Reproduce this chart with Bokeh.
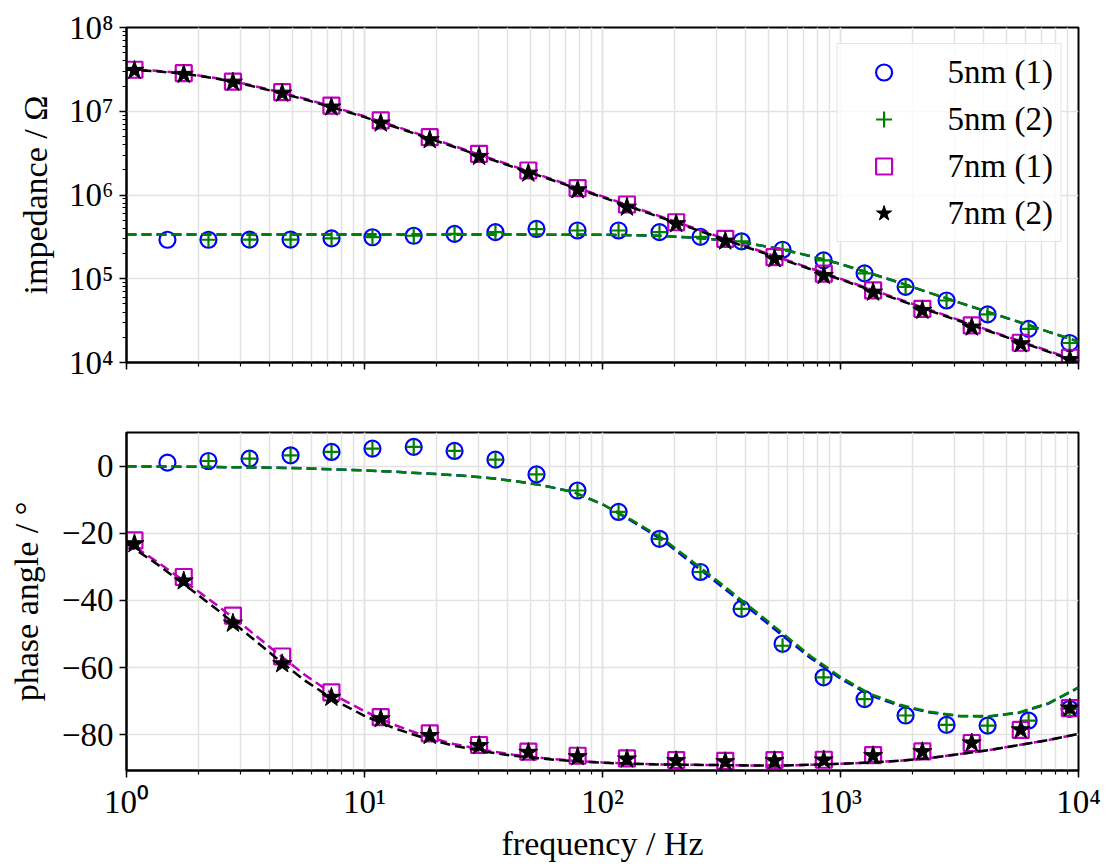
from bokeh.plotting import figure
from bokeh.layouts import column
from bokeh.models import (ColumnDataSource, Range1d, Legend, LegendItem,
                          CustomJSTickFormatter)
from bokeh.embed import file_html
from bokeh.resources import INLINE

# ---------------- data ----------------
freq_5nm_1 = [1.486, 2.21, 3.29, 4.89, 7.27, 10.8, 16.1, 23.9, 35.5, 52.8, 78.5, 116.8,
              173.6, 258, 384, 571, 849, 1262, 1877, 2790, 4150, 6170, 9180]
freq_5nm_2 = [2.21, 3.29, 4.89, 7.27, 10.8, 16.1, 23.9, 35.5, 52.8, 78.5, 116.8,
              173.6, 258, 384, 571, 849, 1262, 1877, 2790, 4150, 6170, 9180]
freq_7nm = [1.08, 1.74, 2.80, 4.51, 7.26, 11.7, 18.8, 30.3, 48.8, 78.6, 126.7, 204,
            328, 528, 851, 1371, 2208, 3560, 5720, 9200]

z_5nm_1 = [2.92e5, 2.92e5, 2.93e5, 2.94e5, 3.03e5, 3.13e5, 3.26e5, 3.44e5, 3.60e5, 3.93e5,
           3.77e5, 3.77e5, 3.60e5, 3.16e5, 2.80e5, 2.22e5, 1.66e5, 1.16e5, 8.0e4, 5.5e4,
           3.75e4, 2.52e4, 1.71e4]
z_5nm_2 = [2.92e5, 2.93e5, 2.94e5, 3.03e5, 3.14e5, 3.26e5, 3.44e5, 3.60e5, 3.92e5,
           3.77e5, 3.77e5, 3.60e5, 3.16e5, 2.80e5, 2.23e5, 1.66e5, 1.16e5, 8.0e4, 5.5e4,
           3.76e4, 2.52e4, 1.71e4]
z_7nm_1 = [3.13e7, 2.85e7, 2.26e7, 1.69e7, 1.17e7, 7.76e6, 4.9e6, 3.1e6, 1.96e6, 1.21e6,
           7.7e5, 4.73e5, 3.0e5, 1.81e5, 1.15e5, 7.25e4, 4.38e4, 2.77e4, 1.72e4, 1.14e4]
z_7nm_2 = [3.07e7, 2.75e7, 2.22e7, 1.64e7, 1.12e7, 7.2e6, 4.56e6, 2.88e6, 1.82e6, 1.15e6,
           7.14e5, 4.53e5, 2.81e5, 1.73e5, 1.09e5, 6.9e4, 4.18e4, 2.64e4, 1.67e4, 1.08e4]

ph_5nm_1 = [1.1, 1.6, 2.3, 3.3, 4.3, 5.3, 5.8, 4.6, 2.0, -2.4, -7.2, -13.6, -21.6, -31.5,
            -42.5, -52.9, -62.9, -69.4, -74.3, -77.1, -77.3, -75.8, -72.3]
ph_5nm_2 = [1.6, 2.3, 3.3, 4.3, 5.3, 5.8, 4.6, 2.0, -2.4, -7.2, -13.6, -21.6, -31.5,
            -42.5, -53.5, -62.9, -69.4, -74.3, -77.1, -77.3, -75.8, -72.3]
ph_7nm_1 = [-22.1, -33.0, -44.5, -56.7, -67.4, -74.8, -79.6, -83.1, -85.1, -86.3, -87.1,
            -87.6, -87.8, -87.6, -87.5, -86.1, -85.0, -82.5, -78.6, -72.1]
ph_7nm_2 = [-23.1, -34.2, -46.8, -58.9, -68.9, -75.3, -80.3, -83.3, -85.3, -86.6, -87.3,
            -87.8, -88.1, -87.8, -87.6, -86.3, -85.1, -82.5, -78.6, -72.1]

# fitted curves, read at eighth-decade frequencies
fit_freq = [1.0, 1.334, 1.778, 2.371, 3.162, 4.217, 5.623, 7.499, 10.0, 13.34, 17.78, 23.71,
            31.62, 42.17, 56.23, 74.99, 100.0, 133.4, 177.8, 237.1, 316.2, 421.7, 562.3,
            749.9, 1000.0, 1334, 1778, 2371, 3162, 4217, 5623, 7499, 10000]
fit_z_5nm_1 = [3.37e5, 3.37e5, 3.37e5, 3.37e5, 3.37e5, 3.37e5, 3.37e5, 3.37e5, 3.37e5,
               3.37e5, 3.37e5, 3.37e5, 3.37e5, 3.37e5, 3.36e5, 3.36e5, 3.35e5, 3.31e5,
               3.25e5, 3.10e5, 2.90e5, 2.61e5, 2.26e5, 1.86e5, 1.50e5, 1.16e5, 8.95e4,
               6.79e4, 5.18e4, 3.96e4, 3.05e4, 2.32e4, 1.78e4]
fit_z_5nm_2 = [3.37e5, 3.37e5, 3.37e5, 3.37e5, 3.37e5, 3.37e5, 3.37e5, 3.37e5, 3.37e5,
               3.37e5, 3.37e5, 3.37e5, 3.37e5, 3.37e5, 3.36e5, 3.36e5, 3.35e5, 3.31e5,
               3.25e5, 3.10e5, 2.90e5, 2.61e5, 2.26e5, 1.86e5, 1.50e5, 1.16e5, 8.95e4,
               6.79e4, 5.18e4, 3.96e4, 3.05e4, 2.32e4, 1.78e4]
fit_z_7nm_1 = [3.17e7, 3.04e7, 2.82e7, 2.49e7, 2.12e7, 1.74e7, 1.41e7, 1.11e7, 8.70e6,
               6.68e6, 5.08e6, 3.86e6, 2.92e6, 2.21e6, 1.68e6, 1.27e6, 9.62e5, 7.25e5,
               5.46e5, 4.12e5, 3.10e5, 2.33e5, 1.76e5, 1.33e5, 1.00e5, 7.52e4, 5.65e4,
               4.25e4, 3.20e4, 2.41e4, 1.82e4, 1.37e4, 1.03e4]
fit_z_7nm_2 = [3.148e7, 3.006e7, 2.786e7, 2.455e7, 2.084e7, 1.710e7, 1.380e7, 1.089e7,
               8.51e6, 6.53e6, 4.97e6, 3.77e6, 2.85e6, 2.16e6, 1.64e6, 1.24e6, 9.40e5,
               7.08e5, 5.33e5, 4.02e5, 3.03e5, 2.28e5, 1.72e5, 1.30e5, 9.79e4, 7.35e4,
               5.52e4, 4.15e4, 3.13e4, 2.36e4, 1.78e4, 1.34e4, 1.0e4]
fit_ph_5nm_1 = [0.0, -0.05, -0.1, -0.2, -0.3, -0.4, -0.6, -0.9, -1.2, -1.6, -2.1, -2.6, -3.3,
                -4.3, -5.7, -7.6, -11.3, -16.4, -21.9, -28.8, -35.8, -42.9, -50.1, -57.2,
                -63.3, -68.3, -71.4, -73.4, -74.5, -74.6, -73.5, -70.7, -66.0]
fit_ph_5nm_2 = [0.0, -0.05, -0.1, -0.2, -0.3, -0.4, -0.6, -0.9, -1.2, -1.6, -2.1, -2.6, -3.3,
                -4.3, -5.7, -7.6, -11.3, -16.1, -21.4, -28.2, -35.1, -42.2, -49.4, -56.6,
                -62.8, -67.9, -71.1, -73.2, -74.4, -74.5, -73.4, -70.6, -65.9]
fit_ph_7nm_1 = [-22.4, -28.3, -34.6, -41.1, -48.0, -55.2, -62.2, -68.3, -73.0, -77.1, -80.3,
                -82.8, -84.6, -86.0, -87.0, -87.8, -88.3, -88.7, -88.9, -89.0, -89.1, -89.2,
                -89.2, -89.0, -88.7, -88.3, -87.8, -87.0, -85.8, -84.6, -83.1, -81.6, -79.8]
fit_ph_7nm_2 = [-23.0, -29.0, -35.6, -42.4, -49.6, -56.9, -63.9, -69.8, -74.4, -78.1, -81.0,
                -83.3, -85.0, -86.3, -87.2, -87.9, -88.4, -88.7, -88.9, -89.0, -89.1, -89.2,
                -89.2, -89.0, -88.7, -88.3, -87.8, -87.0, -85.8, -84.6, -83.1, -81.6, -79.8]

labels = ["5nm (1)", "5nm (2)", "7nm (1)", "7nm (2)"]
phase_ticks = [-80, -60, -40, -20, 0]

# ---------------- styling ----------------
FONT = "Liberation Serif"
BLUE, GREEN, MAGENTA, BLACK = "#0000ff", "#008000", "#bf00bf", "#000000"
GRID = "#e2e2e2"

x_range = Range1d(1, 1e4)

sup_code = """
const s = {"0":"\u2070","1":"\u00b9","2":"\u00b2","3":"\u00b3","4":"\u2074","5":"\u2075",
           "6":"\u2076","7":"\u2077","8":"\u2078","9":"\u2079","-":"\u207b"};
const e = Math.round(Math.log10(tick));
return "10" + String(e).split("").map(c => s[c]).join("");
"""
log_fmt = CustomJSTickFormatter(code=sup_code)
lin_fmt = CustomJSTickFormatter(code="return tick < 0 ? '\u2212' + Math.abs(tick) : '' + tick;")


def style(p):
    p.background_fill_color = "white"
    p.border_fill_color = "white"
    p.outline_line_color = "black"
    p.outline_line_width = 2
    p.outline_line_alpha = 1
    for ax in p.axis:
        ax.axis_line_width = 2
        ax.major_tick_in = 0
        ax.major_tick_out = 7
        ax.minor_tick_in = 0
        ax.minor_tick_out = 4
        ax.major_tick_line_width = 1.5
        ax.minor_tick_line_width = 1.2
        ax.major_label_text_font = FONT
        ax.major_label_text_font_size = "33px"
        ax.major_label_text_color = "black"
        ax.major_label_standoff = 6
        ax.axis_label_text_font = FONT
        ax.axis_label_text_font_size = "34px"
        ax.axis_label_text_font_style = "normal"
        ax.axis_label_text_color = "black"
    p.xgrid.grid_line_color = GRID
    p.xgrid.grid_line_width = 1.5
    p.xgrid.minor_grid_line_color = GRID
    p.xgrid.minor_grid_line_width = 1.5
    p.ygrid.grid_line_color = GRID
    p.ygrid.grid_line_width = 1.5


# ---------------- top: impedance ----------------
p1 = figure(width=1110, height=397, x_axis_type="log", y_axis_type="log",
            x_range=x_range, y_range=Range1d(1e4, 1e8),
            output_backend="svg", toolbar_location=None,
            min_border_left=126, min_border_right=32, min_border_top=27, min_border_bottom=35)
style(p1)
p1.yaxis.formatter = log_fmt
p1.yaxis.axis_label = "impedance / \u03a9"
p1.yaxis.axis_label_standoff = 12
p1.xaxis.major_label_text_font_size = "2px"
p1.xaxis.major_label_text_alpha = 0

s5a = ColumnDataSource(dict(f=freq_5nm_1, z=z_5nm_1, ph=ph_5nm_1))
s5b = ColumnDataSource(dict(f=freq_5nm_2, z=z_5nm_2, ph=ph_5nm_2))
s7a = ColumnDataSource(dict(f=freq_7nm, z=z_7nm_1, ph=ph_7nm_1))
s7b = ColumnDataSource(dict(f=freq_7nm, z=z_7nm_2, ph=ph_7nm_2))
fit = ColumnDataSource(dict(f=fit_freq, z5a=fit_z_5nm_1, z5b=fit_z_5nm_2,
                            z7a=fit_z_7nm_1, z7b=fit_z_7nm_2,
                            p5a=fit_ph_5nm_1, p5b=fit_ph_5nm_2,
                            p7a=fit_ph_7nm_1, p7b=fit_ph_7nm_2))

DASH = "10 5"


def draw(p, key):
    y = "z" if key == "z" else "ph"
    pre = "z" if key == "z" else "p"
    p.line("f", pre + "5a", source=fit, line_color=BLUE, line_width=2.5, line_dash=DASH)
    r1 = p.scatter("f", y, source=s5a, marker="circle", size=16, fill_color=None,
                   line_color=BLUE, line_width=2.2)
    p.line("f", pre + "5b", source=fit, line_color=GREEN, line_width=2.5, line_dash=DASH)
    r2 = p.scatter("f", y, source=s5b, marker="cross", size=15, line_color=GREEN,
                   line_width=2.2)
    p.line("f", pre + "7a", source=fit, line_color=MAGENTA, line_width=2.5, line_dash=DASH,
           line_dash_offset=4)
    r3 = p.scatter("f", y, source=s7a, marker="square", size=16, fill_color=None,
                   line_color=MAGENTA, line_width=2.2)
    p.line("f", pre + "7b", source=fit, line_color=BLACK, line_width=2.5, line_dash=DASH)
    r4 = p.scatter("f", y, source=s7b, marker="star", size=20, fill_color=BLACK,
                   line_color=BLACK, line_width=1)
    return [r1, r2, r3, r4]


rs = draw(p1, "z")
legend = Legend(items=[LegendItem(label=l, renderers=[r]) for l, r in zip(labels, rs)],
                location="top_right", margin=16, padding=8, spacing=7,
                glyph_width=76, glyph_height=40, label_height=40, label_standoff=26,
                label_text_font=FONT, label_text_font_size="33px",
                label_text_color="black",
                background_fill_color="white", background_fill_alpha=0.8,
                border_line_color="#cccccc", border_line_width=1.5)
p1.add_layout(legend)

# ---------------- bottom: phase ----------------
p2 = figure(width=1110, height=470, x_axis_type="log",
            x_range=x_range, y_range=Range1d(-90.7, 10.1),
            output_backend="svg", toolbar_location=None,
            min_border_left=126, min_border_right=32, min_border_top=35, min_border_bottom=97)
style(p2)
p2.xaxis.formatter = log_fmt
p2.xaxis.axis_label = "frequency / Hz"
p2.xaxis.axis_label_standoff = 2
p2.yaxis.axis_label = "phase angle / \u00b0"
p2.yaxis.axis_label_standoff = 14
p2.yaxis.ticker = phase_ticks
p2.yaxis.formatter = lin_fmt
p2.yaxis.minor_tick_line_color = None
p2.ygrid.ticker = phase_ticks
draw(p2, "ph")

layout = column(p1, p2, spacing=0)
open("out.html", "w").write(file_html(layout, INLINE))
